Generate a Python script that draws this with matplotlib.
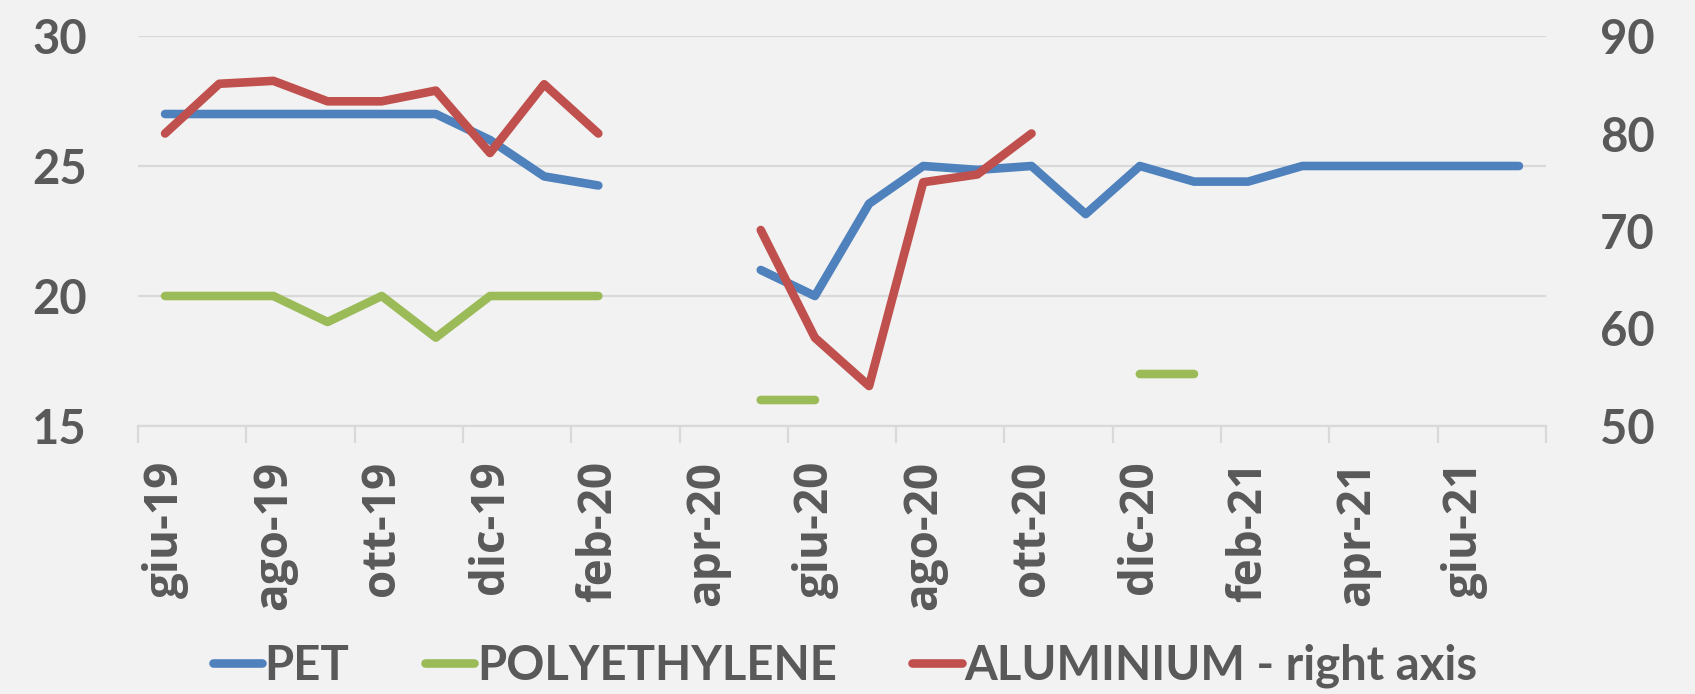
import numpy as np
import matplotlib
matplotlib.use("Agg")
import matplotlib.pyplot as plt
from matplotlib.ticker import FixedLocator, FixedFormatter, NullFormatter

nan = np.nan
months = ["giu-19", "lug-19", "ago-19", "set-19", "ott-19", "nov-19", "dic-19",
          "gen-20", "feb-20", "mar-20", "apr-20", "mag-20", "giu-20", "lug-20",
          "ago-20", "set-20", "ott-20", "nov-20", "dic-20", "gen-21", "feb-21",
          "mar-21", "apr-21", "mag-21", "giu-21", "lug-21"]

pet = [27, 27, 27, 27, 27, 27, 26.0, 24.6, 24.25, nan, nan, 21.0, 20.0, 23.55,
       25.0, 24.85, 25.0, 23.15, 25.0, 24.4, 24.4, 25, 25, 25, 25, 25]
polyethylene = [20, 20, 20, 19.0, 20, 18.4, 20, 20, 20, nan, nan, 16.0, 16.0, nan,
                nan, nan, nan, nan, 17.0, 17.0, nan, nan, nan, nan, nan, nan]
aluminium = [80.0, 85.1, 85.4, 83.3, 83.3, 84.4, 78.0, 85.05, 80.0, nan, nan, 70.1,
             59.05, 54.1, 75.0, 75.8, 80.0, nan, nan, nan, nan, nan, nan, nan, nan, nan]

left_ticks = [15, 20, 25, 30]
right_ticks = [50, 60, 70, 80, 90]
series_names = ["PET", "POLYETHYLENE", "ALUMINIUM - right axis"]

BG = "#F2F2F2"
GRID = "#D9D9D9"
TXT = "#595959"
C_PET = "#4F81BD"
C_PE = "#9BBB59"
C_AL = "#C0504D"
LABEL_FONT = ["Lato", "DejaVu Sans"]
XLAB_FONT = ["Open Sans", "DejaVu Sans"]

fig = plt.figure(figsize=(16.95, 6.94), dpi=100, facecolor=BG)
ax = fig.add_axes([138 / 1695, 1 - 426 / 694, (1546 - 138) / 1695, (426 - 36) / 694])
ax.set_facecolor(BG)
ax2 = ax.twinx()
ax2.patch.set_visible(False)

x = np.arange(len(months))
lw = 6.2
l1, = ax.plot(x, pet, color=C_PET, lw=lw, solid_capstyle="round", solid_joinstyle="round", zorder=3)
l2, = ax.plot(x, polyethylene, color=C_PE, lw=lw, solid_capstyle="round", solid_joinstyle="round", zorder=3)
l3, = ax2.plot(x, aluminium, color=C_AL, lw=lw, solid_capstyle="round", solid_joinstyle="round", zorder=3)

ax.set_xlim(-0.5, len(months) - 0.5)
ax.set_ylim(15, 30)
ax2.set_ylim(50, 90)
ax.set_yticks(left_ticks)
ax2.set_yticks(right_ticks)
ax.yaxis.grid(True, color=GRID, lw=1.6, zorder=0)
ax.set_axisbelow(True)

# x ticks: marks at group boundaries, labels at every second category
ax.xaxis.set_major_locator(FixedLocator(np.arange(-0.5, len(months), 2)))
ax.xaxis.set_major_formatter(NullFormatter())
ax.xaxis.set_minor_locator(FixedLocator(x[::2]))
ax.xaxis.set_minor_formatter(FixedFormatter(months[::2]))
ax.tick_params(axis="x", which="major", length=12, width=1.6, color=GRID)
ax.tick_params(axis="x", which="minor", length=0, pad=25, labelsize=33,
               labelrotation=90, labelcolor=TXT)

for a in (ax, ax2):
    for s in ("left", "right", "top"):
        a.spines[s].set_visible(False)
    a.spines["bottom"].set_color(GRID)
    a.spines["bottom"].set_linewidth(1.6)
ax2.spines["bottom"].set_visible(False)

ax.tick_params(axis="y", length=0, pad=37, labelsize=34, labelcolor=TXT)
ax2.tick_params(axis="y", length=0, pad=39, labelsize=34, labelcolor=TXT)
for lab in ax.get_yticklabels() + ax2.get_yticklabels():
    lab.set_family(LABEL_FONT)
    lab.set_fontweight("bold")
for lab in ax.xaxis.get_ticklabels(minor=True):
    lab.set_family(XLAB_FONT)
    lab.set_fontweight("bold")

leg = fig.legend([l1, l2, l3], series_names, loc="center", bbox_to_anchor=(0.4985, 0.040),
                 ncol=3, frameon=False, handlelength=1.05, handletextpad=0.05,
                 columnspacing=1.6, prop={"family": LABEL_FONT, "weight": "bold", "size": 34})
for t in leg.get_texts():
    t.set_color(TXT)

fig.savefig("out.png", dpi=100, facecolor=BG)
